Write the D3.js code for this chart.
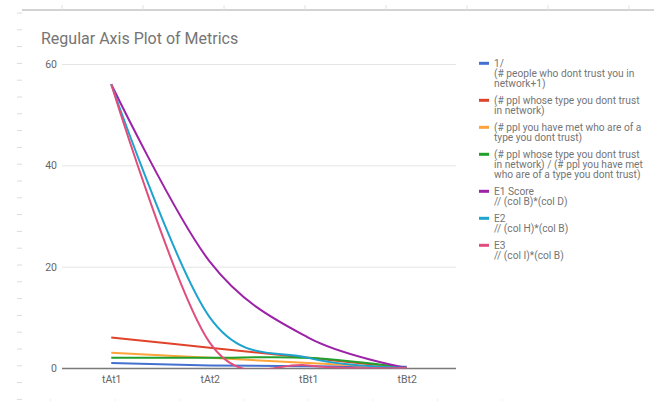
<!DOCTYPE html>
<html>
<head>
<meta charset="utf-8">
<script src="https://cdn.jsdelivr.net/npm/d3@7"></script>
<style>
  body { margin: 0; background: #fff; }
  svg { display: block; font-family: Roboto, Arial, sans-serif; }
</style>
</head>
<body>
<div id="chart"></div>
<script>
var categories = ['tAt1', 'tAt2', 'tBt1', 'tBt2'];

var invTrust     = [1, 0.5, 0.33, 0.25];
var typeDistrust = [6, 4, 2, 0];
var metDistrust  = [3, 2, 1, 0];
var ratio        = [2, 2, 2, 0];
var e1Score      = [56, 21, 6, 0];
var e2Score      = [56, 10, 2, 0];
var e3Score      = [56, 5, 0.5, 0];

var yTicks = [0, 20, 40, 60];

var legendLines = [
	['1/', '(# people who dont trust you in', 'network+1)'],
	['(# ppl whose type you dont trust', 'in network)'],
	['(# ppl you have met who are of a', 'type you dont trust)'],
	['(# ppl whose type you dont trust', 'in network) / (# ppl you have met', 'who are of a type you dont trust)'],
	['E1 Score', '// (col B)*(col D)'],
	['E2', '// (col H)*(col B)'],
	['E3', '// (col I)*(col B)']
];

var series = [invTrust, typeDistrust, metDistrust, ratio, e1Score, e2Score, e3Score];
var colors = ['#4470d0', '#e0432b', '#ffa43a', '#22a02c', '#9c22a8', '#1ea3cf', '#e04e7c'];

var chart_width  = 654;
var chart_height = 403;
var plot_left = 62, plot_right = 456, plot_top = 64, plot_bottom = 368;

var svg = d3.select('#chart')
	.append('svg')
	.attr('width', chart_width)
	.attr('height', chart_height);

// spreadsheet bits showing around the chart
svg.append('line')
	.attr('x1', 22).attr('x2', chart_width)
	.attr('y1', 10).attr('y2', 10)
	.attr('stroke', '#c4c4c4').attr('stroke-width', 1.5);
d3.range(62, chart_width, 81).forEach(function(x) {
	svg.append('line')
		.attr('x1', x).attr('x2', x).attr('y1', 5).attr('y2', 10)
		.attr('stroke', '#e2e2e2');
});
d3.range(13, chart_height, 16.8).forEach(function(y) {
	svg.append('line')
		.attr('x1', 17).attr('x2', 22).attr('y1', y).attr('y2', y)
		.attr('stroke', '#dcdcdc');
});
d3.range(50, 520, 64.5).forEach(function(x) {
	svg.append('rect')
		.attr('x', x).attr('y', 399.5).attr('width', 1).attr('height', 1)
		.attr('fill', '#dddddd');
});

// title
svg.append('text')
	.attr('x', 41).attr('y', 44)
	.attr('font-size', 16)
	.attr('fill', '#757575')
	.text('Regular Axis Plot of Metrics');

// scales
var x_scale = d3.scalePoint()
	.domain(categories)
	.range([plot_left, plot_right])
	.padding(0.5);

var y_scale = d3.scaleLinear()
	.domain([0, 60])
	.range([plot_bottom, plot_top]);

// gridlines + y labels
var y_axis = d3.axisLeft(y_scale)
	.tickValues(yTicks)
	.tickSize(-(plot_right - plot_left))
	.tickPadding(5);

var gy = svg.append('g')
	.attr('transform', 'translate(' + plot_left + ',0)')
	.call(y_axis);
gy.select('.domain').remove();
gy.selectAll('.tick line')
	.attr('stroke', function(d) { return d === 0 ? '#7a7a7a' : '#e4e4e4'; })
	.attr('stroke-width', function(d) { return d === 0 ? 1.4 : 1; });
gy.selectAll('.tick text')
	.attr('fill', '#666')
	.attr('font-size', 10.5)
	.attr('font-family', 'Roboto, Arial, sans-serif');

// x labels
var x_axis = d3.axisBottom(x_scale)
	.tickSize(0)
	.tickPadding(8);

var gx = svg.append('g')
	.attr('transform', 'translate(0,' + plot_bottom + ')')
	.call(x_axis);
gx.select('.domain').remove();
gx.selectAll('.tick text')
	.attr('fill', '#666')
	.attr('font-size', 10.5)
	.attr('font-family', 'Roboto, Arial, sans-serif');

// clip lines to the plot area
svg.append('clipPath')
	.attr('id', 'plot-clip')
	.append('rect')
	.attr('x', plot_left).attr('y', plot_top - 10)
	.attr('width', plot_right - plot_left).attr('height', plot_bottom - plot_top + 10.5);

var line = d3.line()
	.x(function(d, i) { return x_scale(categories[i]); })
	.y(function(d) { return y_scale(d); })
	.curve(d3.curveCardinal);

// draw series in order so later ones sit on top
svg.append('g')
	.attr('clip-path', 'url(#plot-clip)')
	.selectAll('path')
	.data(series)
	.enter()
	.append('path')
	.attr('fill', 'none')
	.attr('stroke', function(d, i) { return colors[i]; })
	.attr('stroke-width', 2)
	.attr('d', line);

// legend
var lineH = 10, gap = 7;
var ly = 63.3;
legendLines.forEach(function(lines, i) {
	var g = svg.append('g');
	g.append('rect')
		.attr('x', 479).attr('y', ly - 1.5)
		.attr('width', 10).attr('height', 3)
		.attr('fill', colors[i]);
	lines.forEach(function(t, j) {
		g.append('text')
			.attr('x', 494)
			.attr('y', ly + j * lineH + 3.5)
			.attr('font-size', 10.2)
			.attr('fill', '#757575')
			.text(t);
	});
	ly += lines.length * lineH + gap;
});
</script>
</body>
</html>
